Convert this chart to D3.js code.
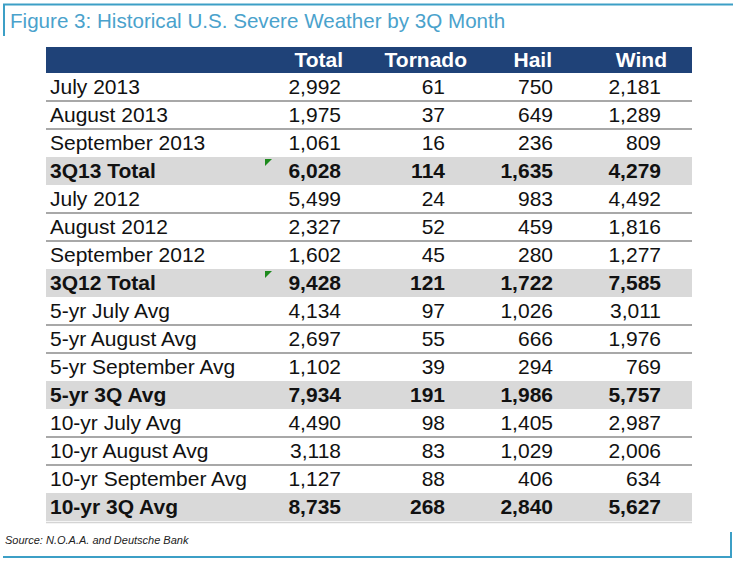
<!DOCTYPE html>
<html>
<head>
<meta charset="utf-8">
<script src="https://cdn.jsdelivr.net/npm/d3@7"></script>
<style>
  html, body { margin: 0; padding: 0; background: #ffffff; }
  svg { display: block; }
</style>
</head>
<body>
<svg id="chart" width="736" height="562"></svg>
<script>
// ---- data ----
const title = "Figure 3: Historical U.S. Severe Weather by 3Q Month";
const source = "Source: N.O.A.A. and Deutsche Bank";
const columns = ["Total", "Tornado", "Hail", "Wind"];
const rowLabels = [
  "July 2013", "August 2013", "September 2013", "3Q13 Total",
  "July 2012", "August 2012", "September 2012", "3Q12 Total",
  "5-yr July Avg", "5-yr August Avg", "5-yr September Avg", "5-yr 3Q Avg",
  "10-yr July Avg", "10-yr August Avg", "10-yr September Avg", "10-yr 3Q Avg"
];
const totalValues   = [2992, 1975, 1061, 6028, 5499, 2327, 1602, 9428, 4134, 2697, 1102, 7934, 4490, 3118, 1127, 8735];
const tornadoValues = [61, 37, 16, 114, 24, 52, 45, 121, 97, 55, 39, 191, 98, 83, 88, 268];
const hailValues    = [750, 649, 236, 1635, 983, 459, 280, 1722, 1026, 666, 294, 1986, 1405, 1029, 406, 2840];
const windValues    = [2181, 1289, 809, 4279, 4492, 1816, 1277, 7585, 3011, 1976, 769, 5757, 2987, 2006, 634, 5627];
const summaryRows   = ["3Q13 Total", "3Q12 Total", "5-yr 3Q Avg", "10-yr 3Q Avg"];
const flaggedRows   = ["3Q13 Total", "3Q12 Total"];

// ---- layout ----
const svg = d3.select("#chart");
const tableLeft = 46, tableRight = 692;
const headerTop = 47, headerBottom = 73;
const frameColor = "#3c9fc6";
const fontFamily = "Arial, 'Liberation Sans', Helvetica, sans-serif";
const bodySize = 21;

const valuesByCol = {Total: totalValues, Tornado: tornadoValues, Hail: hailValues, Wind: windValues};
const rows = rowLabels.map((label, i) => ({
  label,
  values: columns.map(c => valuesByCol[c][i]),
  summary: summaryRows.includes(label),
  flagged: flaggedRows.includes(label)
}));

const y = d3.scaleBand().domain(rowLabels).range([headerBottom, 521]).padding(0);
const xValue = d3.scaleOrdinal().domain(columns).range([341, 445, 553, 661]);
const xHeader = d3.scaleOrdinal().domain(columns).range([343, 467, 552, 667]);
const fmt = d3.format(",");

// frame
svg.append("path")
  .attr("d", `M4,36 L4,4.5 L733,4.5`)
  .attr("fill", "none").attr("stroke", frameColor).attr("stroke-width", 2);
svg.append("path")
  .attr("d", `M3,557 L731,557 L731,532`)
  .attr("fill", "none").attr("stroke", frameColor).attr("stroke-width", 2);

// title
svg.append("text")
  .attr("x", 10).attr("y", 28)
  .attr("font-family", fontFamily).attr("font-size", 20.6)
  .attr("fill", "#4aa2cc")
  .text(title);

// header
svg.append("rect")
  .attr("x", tableLeft).attr("y", headerTop)
  .attr("width", tableRight - tableLeft).attr("height", headerBottom - headerTop)
  .attr("fill", "#1f4278");
svg.selectAll("text.hdr").data(columns).join("text")
  .attr("class", "hdr")
  .attr("x", d => xHeader(d)).attr("y", 67)
  .attr("text-anchor", "end")
  .attr("font-family", fontFamily).attr("font-size", bodySize).attr("font-weight", "bold")
  .attr("fill", "#ffffff")
  .text(d => d);

// summary row backgrounds
svg.selectAll("rect.sum").data(rows.filter(r => r.summary)).join("rect")
  .attr("class", "sum")
  .attr("x", tableLeft).attr("y", d => y(d.label))
  .attr("width", tableRight - tableLeft).attr("height", y.bandwidth())
  .attr("fill", "#d9d9d9");

// separators between consecutive non-summary rows
const seps = rows.filter((r, i) => i < rows.length - 1 && !r.summary && !rows[i + 1].summary);
svg.selectAll("line.sep").data(seps).join("line")
  .attr("class", "sep")
  .attr("x1", tableLeft).attr("x2", tableRight)
  .attr("y1", d => y(d.label) + y.bandwidth())
  .attr("y2", d => y(d.label) + y.bandwidth())
  .attr("stroke", "#a8a8a8").attr("stroke-width", 2);

// bottom line
svg.append("line")
  .attr("x1", tableLeft).attr("x2", tableRight)
  .attr("y1", 522.5).attr("y2", 522.5)
  .attr("stroke", "#d4d4d4").attr("stroke-width", 1.5);

// green flag triangles
svg.selectAll("path.flag").data(rows.filter(r => r.flagged)).join("path")
  .attr("class", "flag")
  .attr("d", d => {
    const t = y(d.label) + 2;
    return `M265,${t} L272,${t} L265,${t + 7} Z`;
  })
  .attr("fill", "#1d8a1d");

// row groups
const g = svg.selectAll("g.row").data(rows).join("g")
  .attr("class", "row")
  .attr("transform", d => `translate(0,${y(d.label) + 21})`);

g.append("text")
  .attr("x", 50)
  .attr("font-family", fontFamily).attr("font-size", bodySize)
  .attr("font-weight", d => d.summary ? "bold" : "normal")
  .attr("fill", "#111111")
  .text(d => d.label);

g.selectAll("text.val").data(d => d.values.map((v, j) => ({v, col: columns[j], summary: d.summary}))).join("text")
  .attr("class", "val")
  .attr("x", d => xValue(d.col))
  .attr("text-anchor", "end")
  .attr("font-family", fontFamily).attr("font-size", bodySize)
  .attr("font-weight", d => d.summary ? "bold" : "normal")
  .attr("fill", "#111111")
  .text(d => fmt(d.v));

// source
svg.append("text")
  .attr("x", 5).attr("y", 544)
  .attr("font-family", fontFamily).attr("font-size", 11).attr("font-style", "italic")
  .attr("fill", "#222222")
  .text(source);
</script>
</body>
</html>
